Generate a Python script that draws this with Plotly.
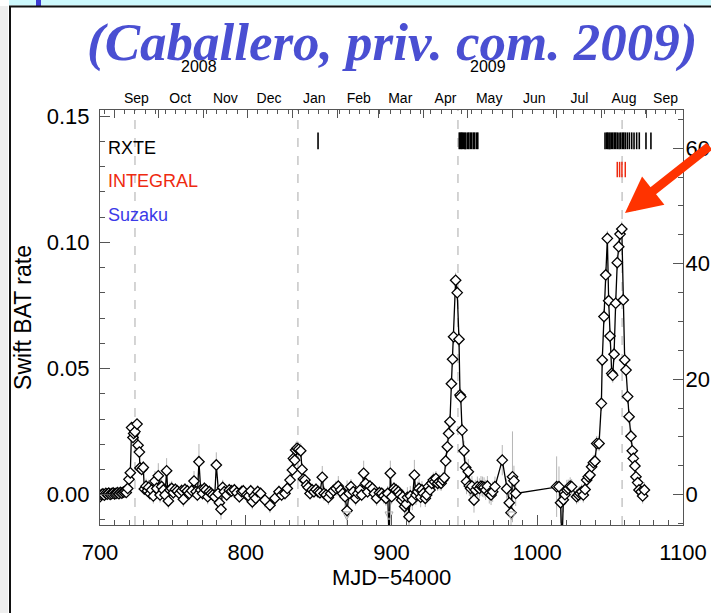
import plotly.graph_objects as go

# ---------------- data ----------------
mjd = [
    700, 701, 702, 703, 704, 705, 706, 707, 708, 709,
    710, 711, 712, 713, 714, 715, 716, 717, 718, 719.0,
    719.9, 720.8, 721.7, 722.6, 723.1, 724.0, 725.4, 726.1, 727.0, 727.4,
    728.6, 729.7, 730.4, 731.6, 732.5, 733.4, 734.3, 735.4, 736.6, 737.7,
    738.9, 740.0, 741.2, 742.3, 743.5, 744.6, 745.7, 746.9, 748.0, 749.2,
    750.3, 751.7, 753.0, 754.4, 756.0, 757.2, 758.3, 759.9, 761.3, 762.9,
    764.5, 765.9, 766.8, 767.9, 769.1, 770.4, 771.6, 772.7, 773.9, 775.0,
    776.2, 777.3, 778.7, 779.8, 781.0, 781.9, 783.0, 784.2, 785.3, 786.9,
    788.7, 790.3, 792.2, 793.8, 795.6, 797.2, 798.3, 800.6, 802.0, 803.4,
    804.5, 805.7, 806.8, 808.2, 810.2, 813.2, 816.6, 820.0, 822.8, 824.6,
    826.9, 828.5, 830.4, 832.0, 832.7, 833.6, 834.2, 835.2, 836.3, 837.7,
    838.6, 839.5, 840.6, 841.8, 842.9, 844.1, 845.5, 846.8, 848.2, 849.6,
    850.9, 852.5, 853.7, 855.1, 856.7, 858.3, 860.1, 861.9, 863.5, 865.1,
    866.5, 868.1, 869.5, 870.9, 872.2, 873.8, 875.4, 876.8, 878.4, 879.5,
    880.9, 882.3, 883.6, 885.2, 886.9, 888.2, 889.8, 891.7, 893.3, 894.6,
    896.2, 897.4, 898.4, 899.2, 900.1, 901.7, 903.1, 904.7, 905.8, 907.0,
    907.7, 909.0, 910.0, 910.9, 912.0, 912.9, 914.3, 915.7, 916.8, 917.9,
    918.9, 920.0, 920.9, 921.8, 923.2, 924.1, 925.3, 926.4, 927.6, 928.7,
    929.6, 930.5, 931.7, 932.8, 934.0, 935.1, 936.2, 937.2, 938.3, 939.2,
    940.1, 941.1, 941.9, 942.6, 944.0, 945.1, 946.3, 947.0, 947.5, 948.4,
    949.7, 950.9, 951.5, 952.7, 953.4, 954.3, 955.2, 956.6, 957.5, 958.9,
    960.3, 961.4, 962.5, 963.5, 964.6, 965.8, 967.1, 968.3, 969.4, 971.0,
    976.0, 979.0, 980.8, 982.0, 983.0, 984.0, 985.2, 1013.3, 1014.9, 1016.0,
    1017.0, 1017.9, 1019.0, 1020.3, 1021.3, 1022.6, 1023.6, 1027.0, 1028.2, 1029.3,
    1030.5, 1031.6, 1032.8, 1033.9, 1035.0, 1036.2, 1037.3, 1038.5, 1039.6, 1040.8,
    1042.4, 1044.0, 1044.6, 1045.8, 1047.0, 1048.1, 1049.0, 1049.9, 1051.1, 1051.8,
    1052.7, 1053.8, 1054.9, 1055.9, 1056.8, 1058.0, 1059.0, 1060.0, 1060.9, 1062.0,
    1063.0, 1064.3, 1065.2, 1065.9, 1067.0, 1067.7, 1068.9, 1069.8, 1071.2, 1072.3,
    1073.5,
]
rate = [
    -0.0008, 0.0000, 0.0003, -0.0002, 0.0005, 0.0002, 0.0006, 0.0001, 0.0004, 0.0007,
    0.0003, 0.0005, 0.0008, 0.0004, 0.0009, 0.0006, 0.0010, 0.0012, 0.0009, 0.0025,
    0.0061, 0.0087, 0.0266, 0.0227, 0.0243, 0.0250, 0.0280, 0.0196, 0.0169, 0.0106,
    0.0100, 0.0108, 0.0023, 0.0034, 0.0016, 0.0029, 0.0005, 0.0019, -0.0005, 0.0054,
    0.0025, 0.0075, -0.0001, 0.0032, 0.0019, -0.0001, 0.0095, -0.0025, 0.0019, 0.0025,
    0.0008, 0.0021, 0.0015, 0.0005, 0.0016, -0.0018, 0.0021, 0.0015, 0.0005, 0.0016,
    0.0054, 0.0012, -0.0001, 0.0131, 0.0019, 0.0005, 0.0025, 0.0019, -0.0008, 0.0012,
    0.0005, -0.0001, -0.0008, 0.0118, 0.0005, -0.0032, -0.0058, 0.0029, 0.0012, -0.0001,
    0.0019, 0.0015, 0.0019, 0.0008, -0.0008, 0.0012, 0.0015, -0.0001, -0.0005, 0.0015,
    -0.0028, -0.0005, -0.0014, 0.0012, 0.0005, -0.0021, -0.0042, -0.0014, 0.0012, -0.0001,
    0.0005, 0.0025, 0.0058, 0.0098, 0.0144, 0.0137, 0.0177, 0.0184, 0.0180, 0.0174,
    0.0100, 0.0062, 0.0058, 0.0038, 0.0029, 0.0005, 0.0019, 0.0012, 0.0021, 0.0012,
    0.0008, 0.0069, 0.0005, -0.0001, -0.0011, 0.0005, 0.0016, 0.0025, 0.0034, 0.0019,
    0.0005, -0.0008, -0.0063, 0.0005, 0.0032, 0.0012, -0.0014, 0.0005, 0.0019, -0.0001,
    0.0085, 0.0045, 0.0012, 0.0034, 0.0025, 0.0005, -0.0014, 0.0008, 0.0005, -0.0005,
    -0.0014, 0.0005, -0.0200, 0.0085, -0.0008, 0.0025, 0.0019, 0.0012, 0.0000, -0.0021,
    -0.0008, -0.0047, -0.0037, -0.0010, -0.0087, -0.0005, -0.0021, 0.0078, -0.0001, 0.0012,
    0.0025, -0.0010, 0.0019, 0.0005, -0.0014, -0.0001, 0.0032, 0.0019, 0.0045, 0.0058,
    0.0051, 0.0064, 0.0045, 0.0051, 0.0045, 0.0058, 0.0067, 0.0134, 0.0190, 0.0243,
    0.0289, 0.0440, 0.0537, 0.0626, 0.0850, 0.0801, 0.0616, 0.0395, 0.0388, 0.0256,
    0.0174, 0.0108, 0.0052, 0.0091, 0.0035, 0.0025, 0.0034, -0.0021, 0.0019, 0.0032,
    0.0025, 0.0034, 0.0032, 0.0029, 0.0019, 0.0034, 0.0005, -0.0001, 0.0012, 0.0032,
    0.0137, 0.0024, -0.0032, -0.0071, 0.0071, 0.0055, 0.0005, 0.0032, 0.0032, -0.0032,
    -0.0200, -0.0020, 0.0000, 0.0019, 0.0025, 0.0034, 0.0032, -0.0008, -0.0001, 0.0005,
    0.0012, -0.0001, 0.0021, 0.0058, 0.0071, 0.0078, 0.0111, 0.0127, 0.0133, 0.0203,
    0.0203, 0.0362, 0.0534, 0.0706, 0.0871, 0.1016, 0.0769, 0.0629, 0.0481, 0.0474,
    0.0557, 0.0759, 0.0920, 0.0983, 0.1033, 0.1053, 0.0772, 0.0534, 0.0494, 0.0389,
    0.0309, 0.0232, 0.0174, 0.0144, 0.0114, 0.0071, 0.0048, 0.0019, 0.0012, -0.0005,
    0.0019,
]
rate_err = [
    0.0010, 0.0010, 0.0010, 0.0010, 0.0010, 0.0010, 0.0010, 0.0010, 0.0010, 0.0010,
    0.0010, 0.0010, 0.0010, 0.0010, 0.0010, 0.0010, 0.0010, 0.0010, 0.0010, 0.0015,
    0.0020, 0.0020, 0.0020, 0.0020, 0.0020, 0.0020, 0.0020, 0.0020, 0.0020, 0.0020,
    0.0020, 0.0025, 0.0025, 0.0030, 0.0025, 0.0030, 0.0025, 0.0030, 0.0030, 0.0040,
    0.0030, 0.0050, 0.0030, 0.0030, 0.0030, 0.0030, 0.0050, 0.0030, 0.0030, 0.0030,
    0.0025, 0.0025, 0.0025, 0.0025, 0.0025, 0.0030, 0.0025, 0.0025, 0.0025, 0.0025,
    0.0040, 0.0025, 0.0025, 0.0070, 0.0025, 0.0025, 0.0025, 0.0025, 0.0030, 0.0025,
    0.0025, 0.0025, 0.0030, 0.0050, 0.0030, 0.0030, 0.0040, 0.0030, 0.0025, 0.0025,
    0.0025, 0.0025, 0.0025, 0.0025, 0.0025, 0.0025, 0.0025, 0.0025, 0.0025, 0.0025,
    0.0030, 0.0025, 0.0025, 0.0025, 0.0025, 0.0030, 0.0030, 0.0030, 0.0025, 0.0025,
    0.0025, 0.0025, 0.0030, 0.0030, 0.0030, 0.0030, 0.0030, 0.0030, 0.0030, 0.0030,
    0.0025, 0.0025, 0.0025, 0.0025, 0.0025, 0.0025, 0.0025, 0.0025, 0.0025, 0.0025,
    0.0025, 0.0045, 0.0030, 0.0025, 0.0030, 0.0025, 0.0025, 0.0030, 0.0040, 0.0030,
    0.0030, 0.0040, 0.0120, 0.0030, 0.0030, 0.0025, 0.0030, 0.0025, 0.0025, 0.0025,
    0.0050, 0.0030, 0.0025, 0.0025, 0.0025, 0.0025, 0.0030, 0.0025, 0.0025, 0.0030,
    0.0030, 0.0030, 0.0150, 0.0050, 0.0030, 0.0025, 0.0025, 0.0025, 0.0030, 0.0040,
    0.0030, 0.0050, 0.0040, 0.0040, 0.0050, 0.0040, 0.0040, 0.0060, 0.0040, 0.0040,
    0.0040, 0.0040, 0.0035, 0.0030, 0.0035, 0.0030, 0.0030, 0.0030, 0.0030, 0.0030,
    0.0030, 0.0030, 0.0030, 0.0030, 0.0030, 0.0030, 0.0030, 0.0030, 0.0030, 0.0030,
    0.0030, 0.0030, 0.0030, 0.0030, 0.0030, 0.0030, 0.0030, 0.0030, 0.0030, 0.0030,
    0.0040, 0.0040, 0.0050, 0.0050, 0.0040, 0.0040, 0.0040, 0.0050, 0.0040, 0.0040,
    0.0040, 0.0040, 0.0040, 0.0040, 0.0040, 0.0040, 0.0040, 0.0040, 0.0040, 0.0040,
    0.0060, 0.0040, 0.0050, 0.0060, 0.0180, 0.0060, 0.0050, 0.0120, 0.0080, 0.0080,
    0.0150, 0.0050, 0.0040, 0.0040, 0.0035, 0.0035, 0.0030, 0.0030, 0.0030, 0.0030,
    0.0030, 0.0030, 0.0030, 0.0030, 0.0030, 0.0030, 0.0030, 0.0030, 0.0030, 0.0030,
    0.0030, 0.0030, 0.0030, 0.0030, 0.0030, 0.0030, 0.0030, 0.0030, 0.0030, 0.0030,
    0.0030, 0.0030, 0.0030, 0.0030, 0.0030, 0.0030, 0.0030, 0.0030, 0.0030, 0.0030,
    0.0030, 0.0030, 0.0030, 0.0030, 0.0030, 0.0030, 0.0030, 0.0030, 0.0030, 0.0030,
    0.0030,
]

rxte_mjd = [849.6,
            946.5, 947.3, 948.0, 948.6, 949.5, 950.3, 951.0, 952.2, 953.0, 954.1,
            955.0, 956.2, 957.0, 958.3, 959.2,
            1046.5, 1047.6, 1048.3, 1049.2, 1049.9, 1050.8, 1051.8, 1052.9, 1053.8,
            1054.9, 1056.1, 1057.2, 1058.4, 1059.3, 1060.4, 1061.8, 1063.2, 1064.8,
            1066.4, 1068.2, 1070.0, 1074.6, 1078.0]
integral_mjd = [1054.9, 1056.5, 1058.1, 1060.4]
upper_limit_mjd = [869.3, 898.3, 982.4]
dashed_mjd = [724.0, 835.8, 945.6, 1058.2]

month_start_mjd = [710, 740, 771, 801, 832, 863, 891, 922, 952, 983, 1013, 1044, 1075]
month_label_mjd = [725, 755, 786, 816, 847, 877.5, 906, 937, 967, 998, 1029, 1059.5, 1088]
month_labels = ["Sep", "Oct", "Nov", "Dec", "Jan", "Feb", "Mar", "Apr", "May",
                "Jun", "Jul", "Aug", "Sep"]
year_label_mjd = [768, 966]
year_labels = ["2008", "2009"]

x_ticks = [700, 800, 900, 1000, 1100]
y_ticks = [0.00, 0.05, 0.10, 0.15]
y2_ticks = [0, 20, 40, 60]

# ---------------- geometry helpers ----------------
W, H = 711, 613
L, R, T, B = 100, 683, 110, 525


def px(xp):
    return (xp - L) / (R - L)


def py(yp):
    return (B - yp) / (B - T)


SANS = "Liberation Sans, Arial, sans-serif"
AX = "#555555"

fig = go.Figure()

# error bars (drawn first, underneath)
fig.add_trace(go.Scatter(
    x=mjd, y=rate, mode="markers", marker=dict(opacity=0),
    error_y=dict(type="data", array=rate_err, color="#b5b5b5", thickness=1, width=0),
    hoverinfo="skip"))

# light curve
fig.add_trace(go.Scatter(
    x=mjd, y=rate, mode="lines+markers",
    line=dict(color="black", width=1.3),
    marker=dict(symbol="diamond", size=8, color="white",
                line=dict(color="black", width=1.3)),
    cliponaxis=True))

# upper-limit arrows at the bottom
fig.add_trace(go.Scatter(
    x=upper_limit_mjd, y=[-0.0100] * len(upper_limit_mjd), mode="markers",
    marker=dict(symbol="arrow-down-open", size=8, color="#aaaaaa",
                line=dict(color="#aaaaaa", width=1)),
    hoverinfo="skip"))

# RXTE / INTEGRAL pointings
fig.add_trace(go.Scatter(
    x=rxte_mjd, y=[0.1403] * len(rxte_mjd), mode="markers",
    marker=dict(symbol="line-ns", size=12, line=dict(color="black", width=1.6)),
    hoverinfo="skip"))
fig.add_trace(go.Scatter(
    x=integral_mjd, y=[0.1289] * len(integral_mjd), mode="markers",
    marker=dict(symbol="line-ns", size=11, line=dict(color="#ee2a10", width=1.5)),
    hoverinfo="skip"))

# dummy traces to activate extra axes
fig.add_trace(go.Scatter(x=[700], y=[0], xaxis="x2", yaxis="y", mode="markers",
                         marker=dict(opacity=0), hoverinfo="skip"))
fig.add_trace(go.Scatter(x=[700], y=[0], xaxis="x3", yaxis="y", mode="markers",
                         marker=dict(opacity=0), hoverinfo="skip"))
fig.add_trace(go.Scatter(x=[700], y=[0], xaxis="x", yaxis="y2", mode="markers",
                         marker=dict(opacity=0), hoverinfo="skip"))

shapes = []
for m in dashed_mjd:
    shapes.append(dict(type="line", xref="x", yref="paper", x0=m, x1=m, y0=0, y1=1,
                       line=dict(color="#b8b8b8", width=1.2, dash="dash"), layer="below"))

# slide frame
shapes += [
    dict(type="rect", xref="paper", yref="paper", x0=px(0), x1=px(8), y0=py(H + 10), y1=py(6),
         fillcolor="#eeeeee", line=dict(width=0), layer="above"),
    dict(type="rect", xref="paper", yref="paper", x0=px(9), x1=px(W + 5), y0=py(5.5), y1=py(-2),
         fillcolor="#cdf9fd", line=dict(width=0), layer="above"),
    dict(type="rect", xref="paper", yref="paper", x0=px(36), x1=px(41), y0=py(6), y1=py(-2),
         fillcolor="#3c3cd2", line=dict(width=0), layer="above"),
    dict(type="line", xref="paper", yref="paper", x0=px(9), x1=px(W + 5), y0=py(6.5), y1=py(6.5),
         line=dict(color="#111111", width=2), layer="above"),
    dict(type="line", xref="paper", yref="paper", x0=px(10), x1=px(10), y0=py(6), y1=py(H + 10),
         line=dict(color="#111111", width=2), layer="above"),
]

annotations = [
    dict(text="<b><i>(Caballero, priv. com. 2009)</i></b>", xref="paper", yref="paper",
         x=px(392), y=py(42), xanchor="center", yanchor="middle", showarrow=False,
         font=dict(family="Liberation Serif, Times New Roman, serif", size=53, color="#4a4fd2")),
    dict(text="RXTE", xref="paper", yref="paper", x=px(106), y=py(148), xanchor="left",
         yanchor="middle", showarrow=False, font=dict(family=SANS, size=18, color="black")),
    dict(text="INTEGRAL", xref="paper", yref="paper", x=px(106), y=py(181), xanchor="left",
         yanchor="middle", showarrow=False, font=dict(family=SANS, size=18, color="#ee2a10")),
    dict(text="Suzaku", xref="paper", yref="paper", x=px(106), y=py(215), xanchor="left",
         yanchor="middle", showarrow=False, font=dict(family=SANS, size=18, color="#3a3ae8")),
    dict(text="", xref="paper", yref="paper", x=px(625), y=py(213), showarrow=True,
         ax=100, ay=-68, arrowcolor="#ff3300", arrowwidth=9, arrowhead=2, arrowsize=0.8,
         standoff=0),
]
for m, t in zip(year_label_mjd, year_labels):
    annotations.append(dict(text=t, xref="x", yref="paper", x=m, y=py(67), xanchor="center",
                            yanchor="middle", showarrow=False,
                            font=dict(family=SANS, size=16, color="black")))

fig.update_layout(
    width=W, height=H, autosize=False,
    margin=dict(l=L, r=W - R, t=T, b=H - B, pad=0, autoexpand=False),
    paper_bgcolor="white", plot_bgcolor="white", showlegend=False,
    shapes=shapes, annotations=annotations,
    xaxis=dict(range=[700, 1100], tickmode="array", tickvals=x_ticks, automargin=False,
               ticks="inside", ticklen=10, tickcolor=AX, tickwidth=1,
               showline=True, linecolor=AX, linewidth=1, mirror=False,
               showgrid=False, zeroline=False,
               tickfont=dict(family=SANS, size=22, color="black"), ticklabelstandoff=8,
               minor=dict(tickmode="linear", tick0=700, dtick=10, ticks="inside", ticklen=5,
                          tickcolor=AX, showgrid=False),
               title=dict(text="MJD\u221254000", font=dict(family=SANS, size=22, color="black"),
                          standoff=4)),
    xaxis2=dict(overlaying="x", side="top", range=[700, 1100], tickmode="array",
                automargin=False,
                tickvals=month_start_mjd, ticks="inside", ticklen=8, tickcolor=AX,
                showticklabels=False, showline=True, linecolor=AX, linewidth=1,
                showgrid=False, zeroline=False,
                minor=dict(tickmode="linear", tick0=703, dtick=7, ticks="inside", ticklen=4,
                           tickcolor=AX, showgrid=False)),
    xaxis3=dict(overlaying="x", side="top", range=[700, 1100], tickmode="array",
                automargin=False,
                tickvals=month_label_mjd, ticktext=month_labels, ticks="",
                showline=False, showgrid=False, zeroline=False, ticklabelstandoff=3,
                tickfont=dict(family=SANS, size=14, color="black")),
    yaxis=dict(range=[-0.0120, 0.1525], tickmode="array", tickvals=y_ticks, automargin=False,
               ticktext=["0.00", "0.05", "0.10", "0.15"],
               ticks="inside", ticklen=10, tickcolor=AX, showline=True, linecolor=AX,
               linewidth=1, showgrid=False, zeroline=False, ticklabelstandoff=5,
               tickfont=dict(family=SANS, size=22, color="black"),
               minor=dict(tickmode="linear", tick0=0, dtick=0.01, ticks="inside", ticklen=5,
                          tickcolor=AX, showgrid=False),
               title=dict(text="Swift BAT rate", font=dict(family=SANS, size=23, color="black"),
                          standoff=8)),
    yaxis2=dict(overlaying="y", side="right", range=[-5.24, 66.6], tickmode="array",
                automargin=False,
                tickvals=y2_ticks, ticks="inside", ticklen=10, tickcolor=AX,
                showline=True, linecolor=AX, linewidth=1, showgrid=False, zeroline=False,
                ticklabelstandoff=-3, tickfont=dict(family=SANS, size=22, color="black"),
                minor=dict(tickmode="linear", tick0=0, dtick=5, ticks="inside", ticklen=5,
                           tickcolor=AX, showgrid=False)),
)

fig.write_html("out.html", default_width="711px", default_height="613px",
               config={"responsive": False, "displayModeBar": False},
               post_script="document.body.style.margin='0px';"
                           "document.body.style.overflow='hidden';")
